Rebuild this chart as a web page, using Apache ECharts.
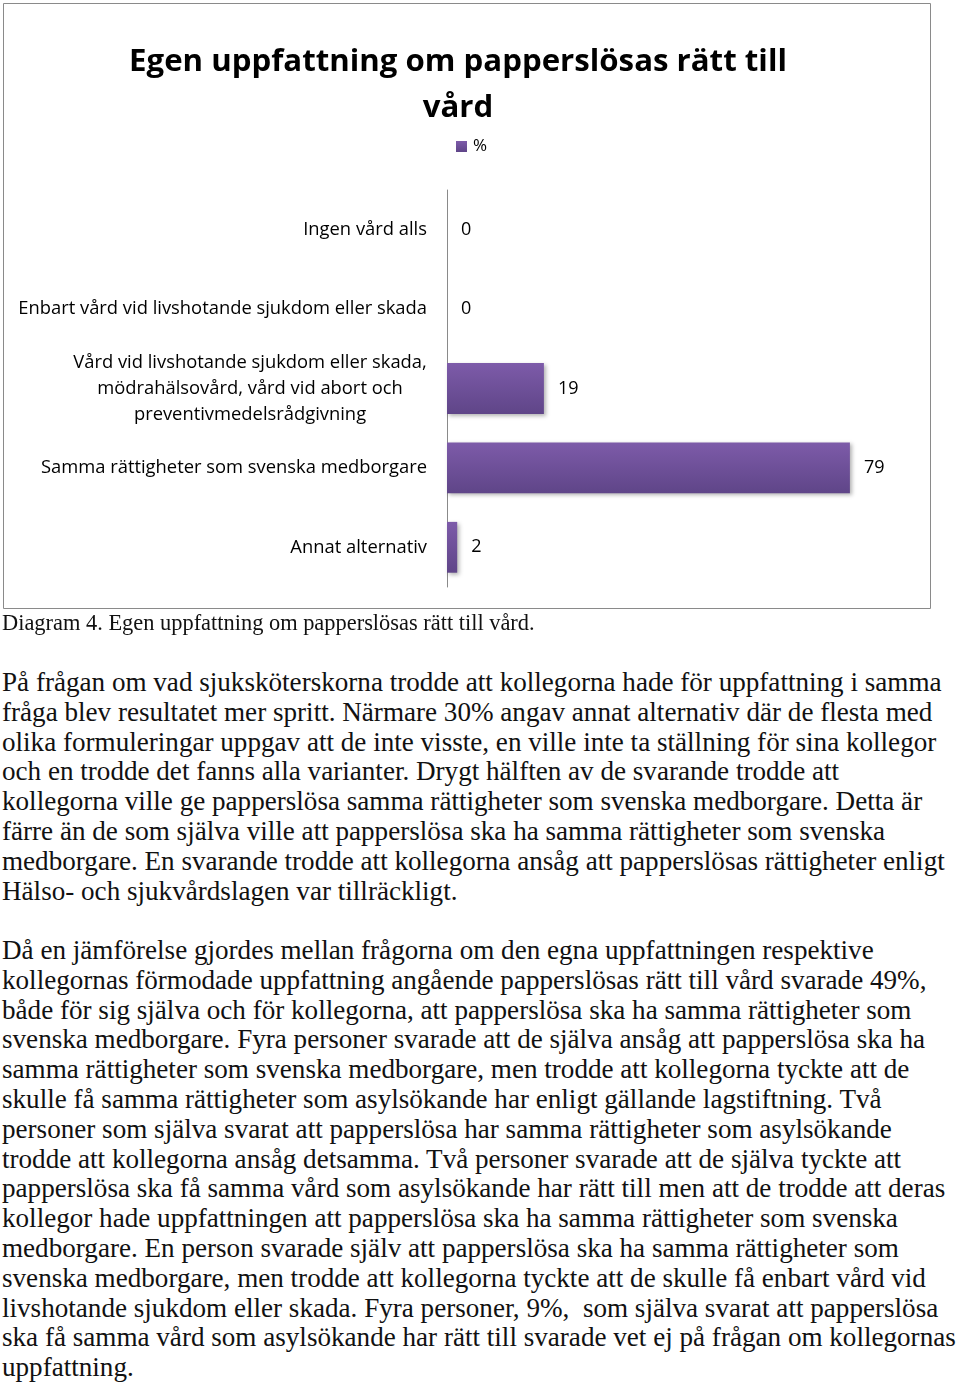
<!DOCTYPE html>
<html>
<head>
<meta charset="utf-8">
<script src="https://cdn.jsdelivr.net/npm/echarts@6/dist/echarts.min.js"></script>
<style>
  html, body { margin: 0; padding: 0; background: #fff; }
  #page { position: relative; width: 960px; height: 1384px; overflow: hidden; }
  #chart { position: absolute; left: 0; top: 0; width: 960px; height: 612px; }
  .cap { position: absolute; left: 2px; top: 610px; font-family: "Liberation Serif", serif; font-size: 20px; color: #111; white-space: nowrap; line-height: 26px; }
  .para { position: absolute; left: 2px; font-family: "Liberation Serif", serif; font-size: 26px; color: #111; line-height: 29.8px; white-space: nowrap; }
</style>
</head>
<body>
<div id="page">
  <div id="chart"></div>
  <div class="cap" id="cap"></div>
  <div class="para" id="p1" style="top:668px"></div>
  <div class="para" id="p2" style="top:936px"></div>
</div>
<script>
const chartTitle = 'Egen uppfattning om papperslösas rätt till\nvård';
const seriesName = '%';
const categories = [
  'Ingen vård alls',
  'Enbart vård vid livshotande sjukdom eller skada',
  'Vård vid livshotande sjukdom eller skada,\nmödrahälsovård, vård vid abort och\npreventivmedelsrådgivning',
  'Samma rättigheter som svenska medborgare',
  'Annat alternativ'
];
const values = [0, 0, 19, 79, 2];

const caption = 'Diagram 4. Egen uppfattning om papperslösas rätt till vård.';
const para1 = [
  'På frågan om vad sjuksköterskorna trodde att kollegorna hade för uppfattning i samma',
  'fråga blev resultatet mer spritt. Närmare 30% angav annat alternativ där de flesta med',
  'olika formuleringar uppgav att de inte visste, en ville inte ta ställning för sina kollegor',
  'och en trodde det fanns alla varianter. Drygt hälften av de svarande trodde att',
  'kollegorna ville ge papperslösa samma rättigheter som svenska medborgare. Detta är',
  'färre än de som själva ville att papperslösa ska ha samma rättigheter som svenska',
  'medborgare. En svarande trodde att kollegorna ansåg att papperslösas rättigheter enligt',
  'Hälso- och sjukvårdslagen var tillräckligt.'
];
const para2 = [
  'Då en jämförelse gjordes mellan frågorna om den egna uppfattningen respektive',
  'kollegornas förmodade uppfattning angående papperslösas rätt till vård svarade 49%,',
  'både för sig själva och för kollegorna, att papperslösa ska ha samma rättigheter som',
  'svenska medborgare. Fyra personer svarade att de själva ansåg att papperslösa ska ha',
  'samma rättigheter som svenska medborgare, men trodde att kollegorna tyckte att de',
  'skulle få samma rättigheter som asylsökande har enligt gällande lagstiftning. Två',
  'personer som själva svarat att papperslösa har samma rättigheter som asylsökande',
  'trodde att kollegorna ansåg detsamma. Två personer svarade att de själva tyckte att',
  'papperslösa ska få samma vård som asylsökande har rätt till men att de trodde att deras',
  'kollegor hade uppfattningen att papperslösa ska ha samma rättigheter som svenska',
  'medborgare. En person svarade själv att papperslösa ska ha samma rättigheter som',
  'svenska medborgare, men trodde att kollegorna tyckte att de skulle få enbart vård vid',
  'livshotande sjukdom eller skada. Fyra personer, 9%,\u00a0 som själva svarat att papperslösa',
  'ska få samma vård som asylsökande har rätt till svarade vet ej på frågan om kollegornas',
  'uppfattning.'
];

function measure(text, font) {
  const c = document.createElement('canvas').getContext('2d');
  c.font = font;
  return c.measureText(text).width;
}
function fitSize(text, family, weight, target) {
  const w = measure(text, weight + ' 20px ' + family);
  return 20 * target / w;
}

function fillLines(el, lines) {
  lines.forEach(function (t) {
    const d = document.createElement('div');
    d.textContent = t;
    el.appendChild(d);
  });
}
const serifFam = '"Liberation Serif"';
const paraSize = fitSize(para1[0], serifFam, 'normal', 940);
const capSize = fitSize(caption, serifFam, 'normal', 533);
const capEl = document.getElementById('cap');
capEl.textContent = caption;
capEl.style.fontSize = capSize + 'px';
['p1', 'p2'].forEach(function (id) { document.getElementById(id).style.fontSize = paraSize + 'px'; });
fillLines(document.getElementById('p1'), para1);
fillLines(document.getElementById('p2'), para2);

const sansFam = '"Open Sans"';
const titleSize = fitSize(chartTitle.split('\n')[0], sansFam, 'bold', 658);
const labelSize = fitSize(categories[1], sansFam, 'normal', 409);
const labelFont = labelSize + 'px "Open Sans"';
let blockW = 0;
categories.forEach(function (c) {
  if (c.indexOf('\n') < 0) return;
  c.split('\n').forEach(function (l) { blockW = Math.max(blockW, measure(l, labelFont)); });
});

const chart = echarts.init(document.getElementById('chart'), null, { renderer: 'canvas' });
chart.setOption({
  animation: false,
  backgroundColor: '#fff',
  title: {
    text: chartTitle,
    left: 453,
    top: 34,
    textAlign: 'center',
    textStyle: { fontFamily: 'Open Sans', fontWeight: 'bold', fontSize: titleSize, lineHeight: 46, color: '#000' }
  },
  legend: {
    data: [seriesName],
    left: 451,
    top: 133,
    itemWidth: 11,
    itemHeight: 11,
    itemGap: 5,
    icon: 'rect',
    textStyle: { fontFamily: 'Open Sans', fontSize: 17, color: '#000', padding: [0, 0, 0, 1] }
  },
  graphic: [{
    type: 'rect',
    shape: { x: 3.5, y: 3.5, width: 927, height: 605 },
    style: { fill: 'none', stroke: '#8a8a8a', lineWidth: 1 },
    silent: true
  }],
  grid: { left: 447, top: 190, height: 397, width: 459 },
  xAxis: { type: 'value', min: 0, max: 90, show: false },
  yAxis: {
    type: 'category',
    inverse: true,
    data: categories,
    axisLine: { show: true, lineStyle: { color: '#8a8a8a', width: 1 } },
    axisTick: { show: false },
    splitLine: { show: false },
    axisLabel: {
      margin: 20,
      fontFamily: 'Open Sans',
      fontSize: labelSize,
      lineHeight: 26,
      color: '#000',
      formatter: function (v) {
        if (v.indexOf('\n') < 0) return v;
        return v.split('\n').map(function (l) { return '{c|' + l + '}'; }).join('\n');
      },
      rich: {
        c: { width: Math.ceil(blockW), align: 'center', fontFamily: 'Open Sans', fontSize: labelSize, lineHeight: 26, color: '#000' }
      }
    }
  },
  series: [{
    name: seriesName,
    type: 'bar',
    data: values,
    barCategoryGap: '36%',
    itemStyle: {
      color: new echarts.graphic.LinearGradient(0, 0, 0, 1, [
        { offset: 0, color: '#7d5ba9' },
        { offset: 1, color: '#5f4588' }
      ]),
      shadowBlur: 4,
      shadowOffsetX: 2,
      shadowOffsetY: 2,
      shadowColor: 'rgba(0,0,0,0.3)'
    },
    label: {
      show: true,
      position: 'right',
      distance: 14,
      fontFamily: 'Open Sans',
      fontSize: 18,
      color: '#000'
    }
  }]
});
</script>
</body>
</html>
